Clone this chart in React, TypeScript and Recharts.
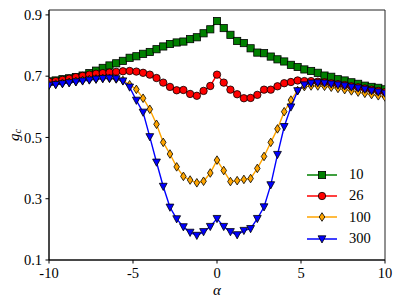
import React from 'react';
import { LineChart, Line, XAxis, YAxis, Legend, ReferenceArea, Label } from 'recharts';

const alpha = [
    -10, -9.6, -9.2, -8.8, -8.4, -8, -7.6, -7.2, -6.8, -6.4, -6, -5.6, -5.2, -4.8, -4.4, -4, -3.6,
    -3.2, -2.8, -2.4, -2, -1.6, -1.2, -0.8, -0.4, 0, 0.4, 0.8, 1.2, 1.6, 2, 2.4, 2.8, 3.2, 3.6, 4,
    4.4, 4.8, 5.2, 5.6, 6, 6.4, 6.8, 7.2, 7.6, 8, 8.4, 8.8, 9.2, 9.6, 10,
];

const g10 = [
    0.683, 0.686, 0.690, 0.693, 0.697, 0.702, 0.710, 0.718, 0.727, 0.735, 0.742, 0.750, 0.760,
    0.765, 0.773, 0.779, 0.788, 0.797, 0.805, 0.810, 0.813, 0.821, 0.827, 0.840, 0.853, 0.880,
    0.857, 0.835, 0.815, 0.808, 0.791, 0.777, 0.775, 0.764, 0.755, 0.748, 0.737, 0.730, 0.722,
    0.717, 0.711, 0.702, 0.698, 0.690, 0.686, 0.680, 0.675, 0.669, 0.665, 0.662, 0.657,
];

const g26 = [
    0.682, 0.684, 0.688, 0.692, 0.697, 0.701, 0.705, 0.708, 0.710, 0.712, 0.714, 0.716, 0.717,
    0.715, 0.711, 0.705, 0.694, 0.679, 0.665, 0.654, 0.655, 0.642, 0.636, 0.652, 0.668, 0.705,
    0.679, 0.656, 0.641, 0.628, 0.629, 0.639, 0.656, 0.656, 0.667, 0.677, 0.681, 0.686, 0.684,
    0.684, 0.682, 0.680, 0.677, 0.674, 0.671, 0.667, 0.664, 0.660, 0.656, 0.652, 0.648,
];

const g100 = [
    0.672, 0.674, 0.677, 0.680, 0.683, 0.686, 0.689, 0.691, 0.693, 0.693, 0.691, 0.686, 0.672,
    0.657, 0.628, 0.592, 0.543, 0.484, 0.446, 0.404, 0.373, 0.361, 0.352, 0.357, 0.384, 0.426,
    0.392, 0.356, 0.359, 0.363, 0.366, 0.399, 0.438, 0.484, 0.528, 0.584, 0.622, 0.653, 0.666,
    0.668, 0.668, 0.667, 0.664, 0.660, 0.656, 0.652, 0.648, 0.644, 0.640, 0.636, 0.632,
];

const g300 = [
    0.670, 0.672, 0.675, 0.678, 0.681, 0.684, 0.687, 0.690, 0.692, 0.693, 0.691, 0.684, 0.664,
    0.621, 0.582, 0.502, 0.419, 0.340, 0.272, 0.234, 0.208, 0.190, 0.180, 0.192, 0.209, 0.235,
    0.209, 0.192, 0.182, 0.196, 0.202, 0.235, 0.273, 0.345, 0.444, 0.535, 0.599, 0.652, 0.671,
    0.677, 0.678, 0.677, 0.674, 0.671, 0.668, 0.664, 0.661, 0.657, 0.652, 0.648, 0.644,
];

const xTicks = [-10, -5, 0, 5, 10];
const yTicks = [0.1, 0.3, 0.5, 0.7, 0.9];

const FONT = '"Liberation Serif", "DejaVu Serif", serif';

const data = alpha.map((a, i) => ({ a, g10: g10[i], g26: g26[i], g100: g100[i], g300: g300[i] }));

// marker shapes, drawn around (cx, cy)
const Square = ({ cx, cy, color }: any) => (
    <rect x={cx - 3.6} y={cy - 3.6} width={7.2} height={7.2} fill={color} stroke="#000" strokeWidth={0.8} />
);
const Circle = ({ cx, cy, color }: any) => (
    <circle cx={cx} cy={cy} r={3.7} fill={color} stroke="#000" strokeWidth={0.8} />
);
const Diamond = ({ cx, cy, color }: any) => (
    <polygon
        points={`${cx},${cy - 4.3} ${cx + 2.8},${cy} ${cx},${cy + 4.3} ${cx - 2.8},${cy}`}
        fill={color} stroke="#000" strokeWidth={0.8}
    />
);
const TriDown = ({ cx, cy, color }: any) => (
    <polygon
        points={`${cx - 3.9},${cy - 3.2} ${cx + 3.9},${cy - 3.2} ${cx},${cy + 4}`}
        fill={color} stroke="#000" strokeWidth={0.8}
    />
);

const series = [
    { key: 'g10', name: '10', color: '#008000', Marker: Square },
    { key: 'g26', name: '26', color: '#ff0000', Marker: Circle },
    { key: 'g100', name: '100', color: '#ffa500', Marker: Diamond },
    { key: 'g300', name: '300', color: '#0000ff', Marker: TriDown },
];

const renderLegend = () => (
    <div style={{ fontFamily: FONT, fontSize: 14.5, color: '#000' }}>
        {series.map(({ name, color, Marker }) => (
            <div key={name} style={{ display: 'flex', alignItems: 'center', height: 21.3 }}>
                <svg width={30} height={14} style={{ display: 'block' }}>
                    <line x1={0} y1={7} x2={30} y2={7} stroke={color} strokeWidth={1.5} />
                    <Marker cx={15} cy={7} color={color} />
                </svg>
                <span style={{ marginLeft: 12 }}>{name}</span>
            </div>
        ))}
    </div>
);

const YLabel = ({ viewBox }: any) => {
    const x = 14;
    const y = viewBox.y + viewBox.height / 2;
    return (
        <text x={x} y={y} transform={`rotate(-90, ${x}, ${y})`} textAnchor="middle" dominantBaseline="central"
            fontFamily={FONT} fill="#000">
            <tspan fontStyle="italic" fontSize={15}>g</tspan>
            <tspan fontStyle="italic" fontSize={10.5} dy={3}>c</tspan>
        </text>
    );
};

const App = () => (
    <div style={{ position: 'absolute', left: 0, top: 0, background: '#fff' }}>
        <LineChart width={399} height={304} data={data} margin={{ top: 10, right: 14, bottom: 0, left: 0 }}>
            <XAxis
                dataKey="a" type="number" domain={[-10, 10]} ticks={xTicks} allowDataOverflow
                height={44} tickSize={3.5} tickMargin={4} stroke="#000"
                tick={{ fill: '#000', fontSize: 14.5, fontFamily: FONT }}
            >
                <Label value="α" position="insideBottom" offset={9}
                    style={{ fontFamily: FONT, fontStyle: 'italic', fontSize: 15, fill: '#000' }} />
            </XAxis>
            <YAxis
                type="number" domain={[0.1, 0.916]} ticks={yTicks} allowDataOverflow
                width={49} tickSize={3.5} tickMargin={3.5} stroke="#000"
                tickFormatter={(v: number) => v.toFixed(1)}
                tick={{ fill: '#000', fontSize: 14.5, fontFamily: FONT }}
            >
                <Label content={YLabel} />
            </YAxis>
            <ReferenceArea x1={-10} x2={10} y1={0.1} y2={0.916} fill="none" stroke="#222" strokeWidth={1} />
            {series.map(({ key, name, color, Marker }) => (
                <Line
                    key={key} dataKey={key} name={name} type="linear" stroke={color} strokeWidth={1.4}
                    isAnimationActive={false} activeDot={false}
                    dot={(p: any) => <Marker key={`${key}-${p.index}`} cx={p.cx} cy={p.cy} color={color} />}
                />
            ))}
            <Legend
                layout="vertical" align="center" verticalAlign="middle" content={renderLegend}
                wrapperStyle={{ left: 307, top: 164, width: 80 }}
            />
        </LineChart>
    </div>
);

export default App;
